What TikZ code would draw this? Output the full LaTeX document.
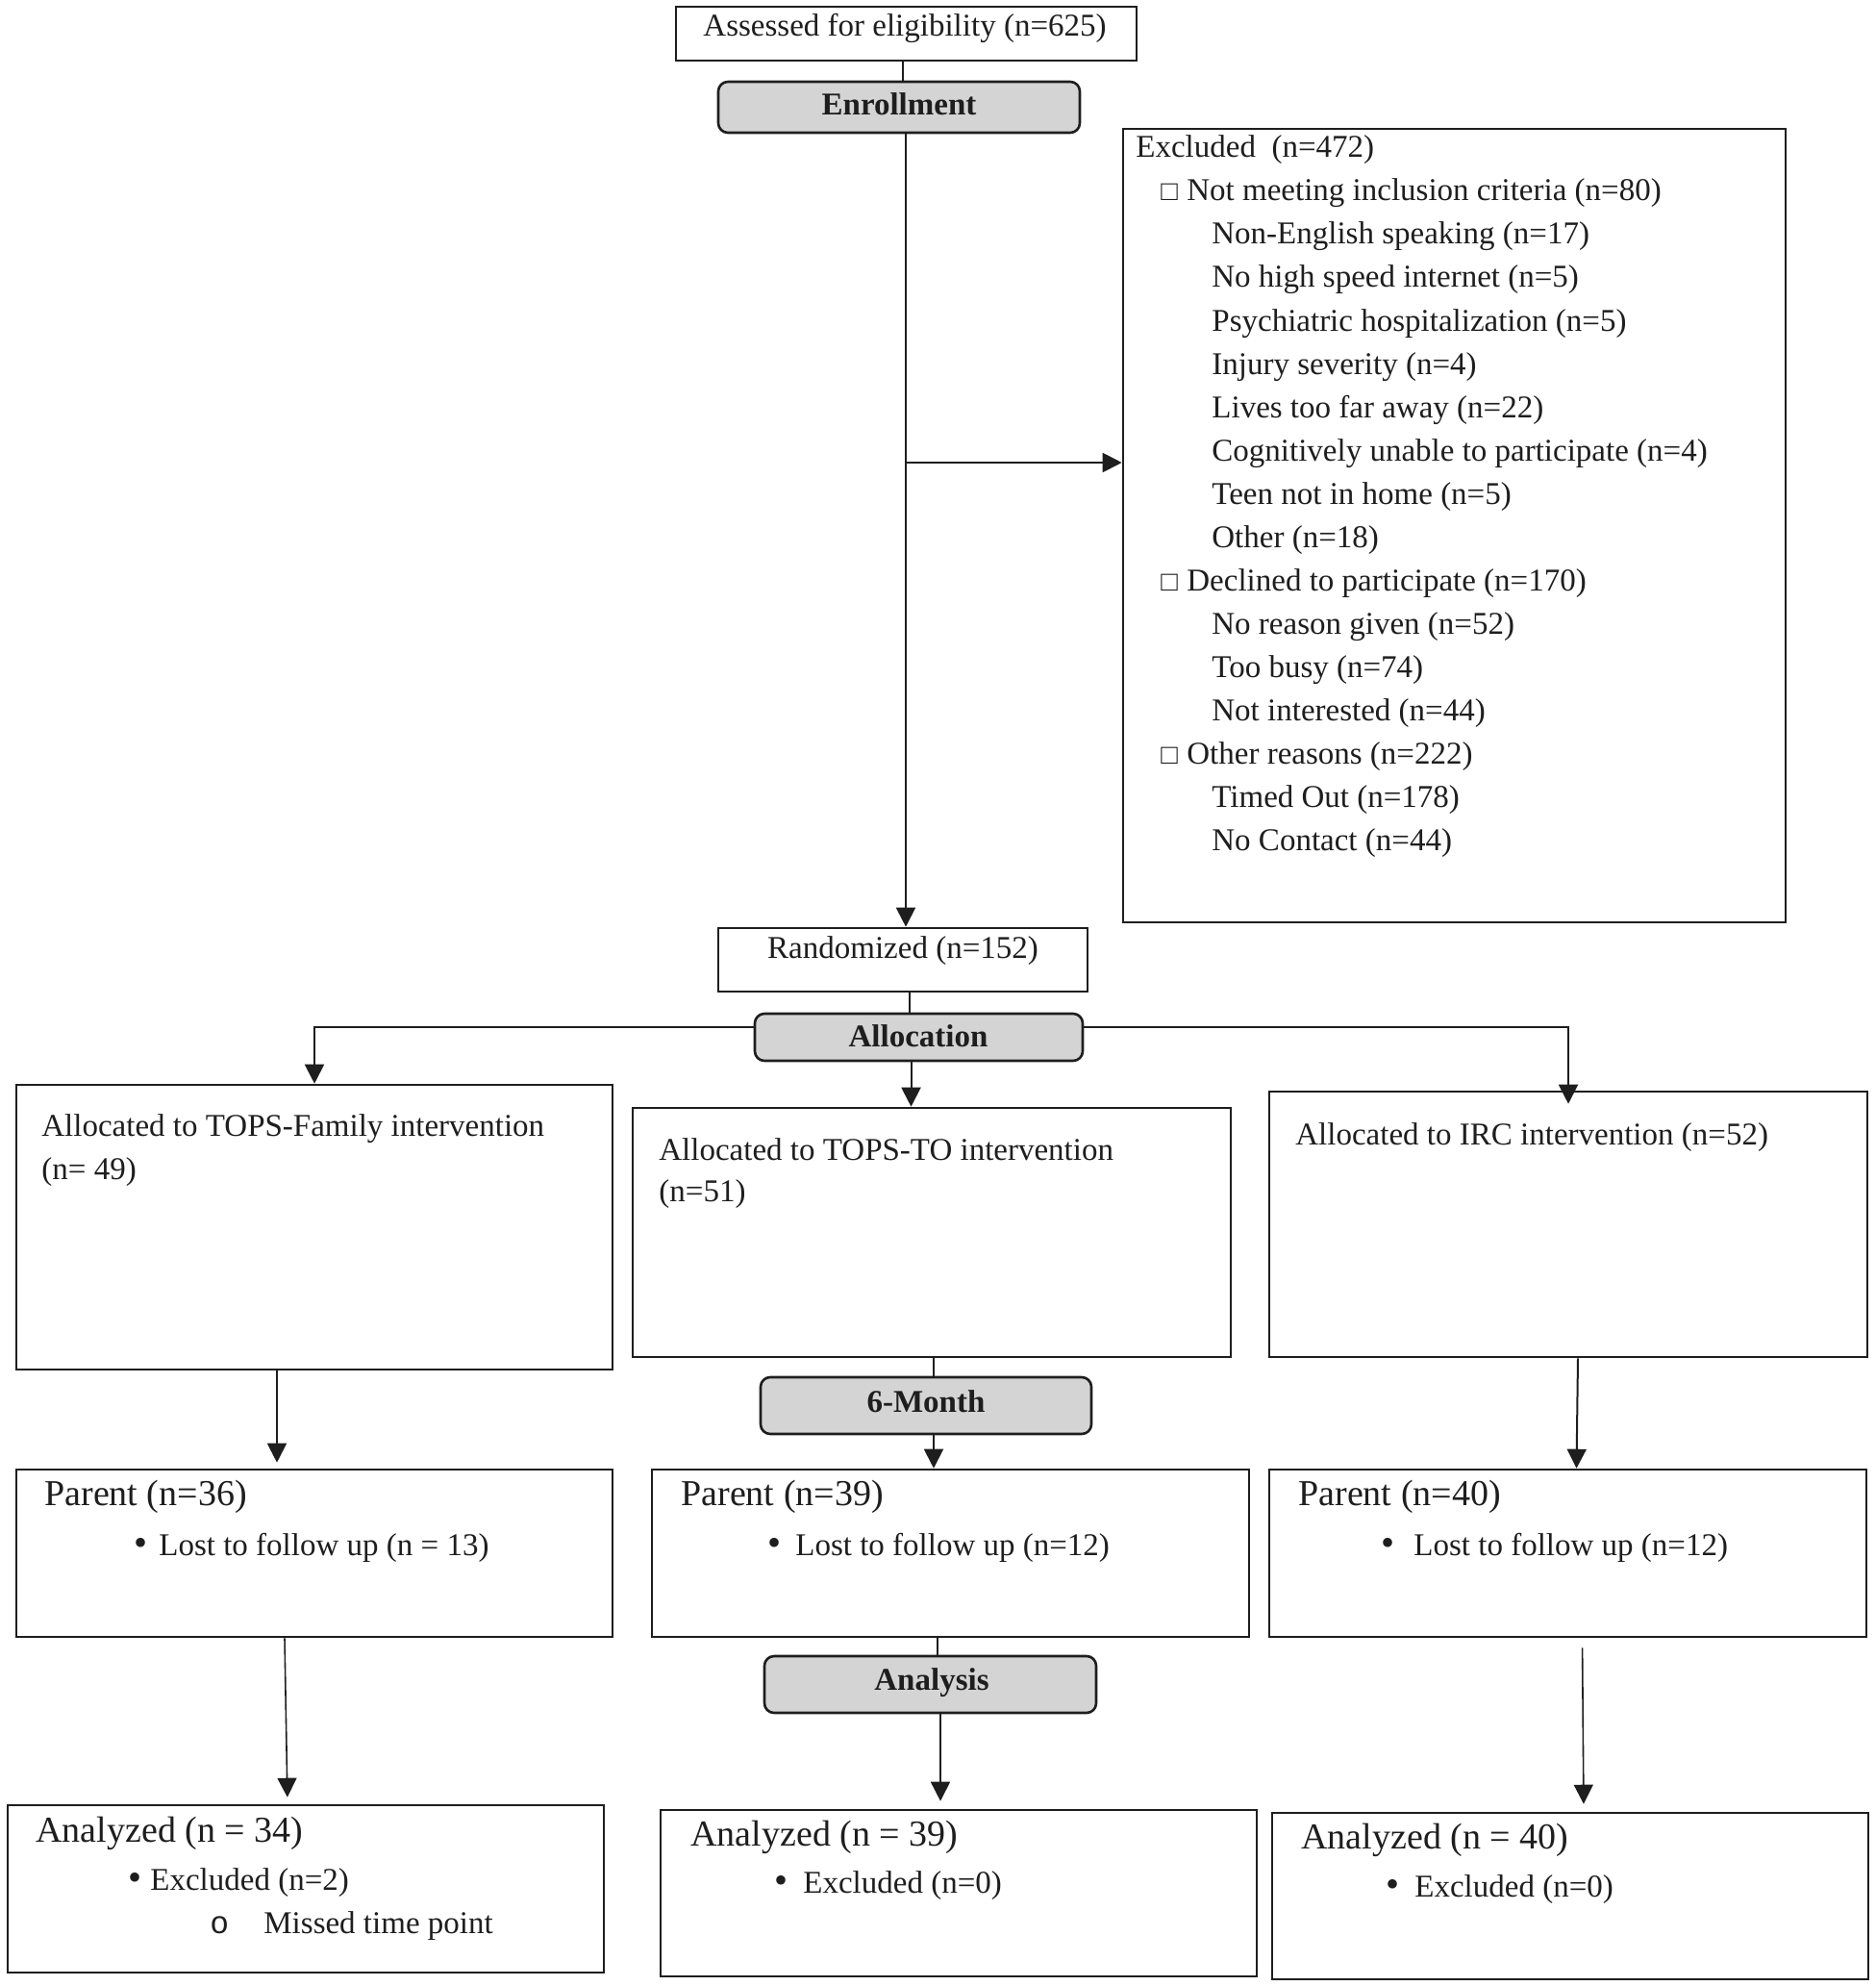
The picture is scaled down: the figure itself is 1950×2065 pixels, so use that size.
\documentclass[tikz,border=0pt]{standalone}
\usepackage{fontspec}
\setmainfont{Liberation Serif}
\newfontfamily\bulmono{Liberation Mono}
\usetikzlibrary{fit,arrows.meta}
\definecolor{ink}{RGB}{30,30,30}
\definecolor{phasegray}{RGB}{212,212,212}
\newcommand\mybul[1]{\makebox[#1][l]{\raisebox{-0.3pt}{\fontsize{20}{20}\selectfont •}}}
\newcommand\mychk{\makebox[13.5pt][l]{\raisebox{0pt}{\fontsize{14.5}{14.5}\selectfont □}}}
\begin{document}
\begin{tikzpicture}[x=0.5pt,y=-0.5pt,
  box/.style={draw=ink, line width=1.3pt, inner sep=0pt},
  phase/.style={box, fill=phasegray, rounded corners=5pt},
  arr/.style={draw=ink, line width=1pt, -{Triangle[length=10pt,width=10pt]}},
  thinarr/.style={draw=ink, line width=0.8pt, -{Triangle[length=10pt,width=10pt]}},
  ln/.style={draw=ink, line width=1pt},
  txt/.style={inner sep=0pt, anchor=base west, text=ink, font=\fontsize{16.5}{20}\selectfont},
  big/.style={txt, font=\fontsize{19}{23}\selectfont},
  bold/.style={inner sep=0pt, anchor=base, text=ink, font=\fontsize{16.5}{20}\selectfont\bfseries},
  ctr/.style={txt, anchor=base},
]
\useasboundingbox (0,0) rectangle (1950,2065);

% boxes
\node[box, fit={(703,7) (1182,63)}] (assess) {};
\node[phase, fit={(747,85) (1123,138)}] (enroll) {};
\node[box, fit={(1168,134) (1857,959)}] (excl) {};
\node[box, fit={(747,965) (1131,1031)}] (rand) {};
\node[phase, fit={(785,1054) (1126,1103)}] (alloc) {};
\node[box, fit={(17,1128) (637,1424)}] (fam) {};
\node[box, fit={(658,1152) (1280,1411)}] (tto) {};
\node[box, fit={(1320,1135) (1942,1411)}] (irc) {};
\node[phase, fit={(791,1432) (1135,1491)}] (six) {};
\node[box, fit={(17,1528) (637,1702)}] (p1) {};
\node[box, fit={(678,1528) (1299,1702)}] (p2) {};
\node[box, fit={(1320,1528) (1941,1702)}] (p3) {};
\node[phase, fit={(795,1722) (1140,1781)}] (ana) {};
\node[box, fit={(8,1877) (628,2051)}] (a1) {};
\node[box, fit={(687,1882) (1307,2055)}] (a2) {};
\node[box, fit={(1323,1885) (1943,2058)}] (a3) {};

% connectors
\draw[ln] ([xshift=-1.75pt]assess.south) -- ([xshift=-1.75pt]assess.south |- enroll.north);
\draw[arr] ([xshift=3.5pt]enroll.south) -- ([xshift=3.5pt]enroll.south |- rand.north);
\coordinate (jn) at (942,481);
\draw[arr] (jn) -- (jn -| excl.west);
\draw[ln] ([xshift=3.5pt]rand.south) -- ([xshift=3.5pt]rand.south |- alloc.north);
\coordinate (bl) at (327,1068);
\coordinate (br) at (1631,1068);
\draw[arr] (bl -| alloc.west) -- (bl) -- (bl |- fam.north);
\draw[arr, shorten >=-7pt] (br -| alloc.east) -- (br) -- (br |- irc.north);
\draw[arr] ([xshift=-4pt]alloc.south) -- ([xshift=-4pt]alloc.south |- tto.north);
\draw[ln] ([xshift=1pt]tto.south) -- ([xshift=1pt]tto.south |- six.north);
\draw[arr] ([xshift=1pt]tto.south |- six.south) -- ([xshift=1pt]tto.south |- p2.north);
\draw[arr, shorten >=3pt] ([xshift=-19.5pt]fam.south) -- ([xshift=-19.5pt]fam.south |- p1.north);
\draw[arr] ([xshift=5pt]irc.south) -- ([xshift=4.5pt]p3.north);
\draw[thinarr, shorten >=3.5pt] ([xshift=-15.5pt]p1.south) -- ([xshift=-9.5pt]a1.north);
\draw[ln, line width=0.8pt] ([xshift=-6.75pt]p2.south) -- ([xshift=-6.75pt]p2.south |- ana.north);
\draw[thinarr, shorten >=4pt] ([xshift=5.25pt]ana.south) -- ([xshift=5.25pt]ana.south |- a2.north);
\draw[thinarr, shorten <=5pt, shorten >=4pt] ([xshift=7.5pt]p3.south) -- ([xshift=7pt]a3.north);

% texts
\node[ctr] (assessT) at (941,38) {Assessed for eligibility (n=625)};
\node[bold] (enrollT) at (935,120) {Enrollment};

\node[txt] (ex0) at (1181,164) {Excluded~ (n=472)};
\node[txt] (ex1) at (1207,209) {\mychk Not meeting inclusion criteria (n=80)};
\node[txt] (ex2) at (1260,254) {Non-English speaking (n=17)};
\node[txt] (ex3) at (1260,299) {No high speed internet (n=5)};
\node[txt] (ex4) at (1260,344) {Psychiatric hospitalization (n=5)};
\node[txt] (ex5) at (1260,389) {Injury severity (n=4)};
\node[txt] (ex6) at (1260,434) {Lives too far away (n=22)};
\node[txt] (ex7) at (1260,479) {Cognitively unable to participate (n=4)};
\node[txt] (ex8) at (1260,524) {Teen not in home (n=5)};
\node[txt] (ex9) at (1260,569) {Other (n=18)};
\node[txt] (ex10) at (1207,614) {\mychk Declined to participate (n=170)};
\node[txt] (ex11) at (1260,659) {No reason given (n=52)};
\node[txt] (ex12) at (1260,704) {Too busy (n=74)};
\node[txt] (ex13) at (1260,749) {Not interested (n=44)};
\node[txt] (ex14) at (1207,794) {\mychk Other reasons (n=222)};
\node[txt] (ex15) at (1260,839) {Timed Out (n=178)};
\node[txt] (ex16) at (1260,884) {No Contact (n=44)};

\node[ctr] (randT) at (939,996) {Randomized (n=152)};
\node[bold] (allocT) at (955,1088) {Allocation};

\node[txt] (famT1) at (43,1181) {Allocated to TOPS-Family intervention};
\node[txt] (famT2) at (43,1226) {(n= 49)};
\node[txt] (ttoT1) at (685,1206) {Allocated to TOPS-TO intervention};
\node[txt] (ttoT2) at (685,1249) {(n=51)};
\node[txt] (ircT) at (1347,1190) {Allocated to IRC intervention (n=52)};

\node[bold] (sixT) at (963,1468) {6-Month};

\node[big] (p1T) at (46,1565) {Parent (n=36)};
\node[txt] (p1B) at (139,1617) {\mybul{13pt}Lost to follow up (n = 13)};
\node[big] (p2T) at (708,1565) {Parent (n=39)};
\node[txt] (p2B) at (798,1617) {\mybul{14.5pt}Lost to follow up (n=12)};
\node[big] (p3T) at (1350,1565) {Parent (n=40)};
\node[txt] (p3B) at (1436,1617) {\mybul{17pt}Lost to follow up (n=12)};

\node[bold] (anaT) at (969,1757) {Analysis};

\node[big] (a1T) at (37,1915) {Analyzed (n = 34)};
\node[txt] (a1B) at (133,1965) {\mybul{11.5pt}Excluded (n=2)};
\node[txt] (a1C) at (218,2010) {\makebox[28pt][l]{\bulmono o}Missed time point};
\node[big] (a2T) at (718,1919) {Analyzed (n = 39)};
\node[txt] (a2B) at (805,1968) {\mybul{15pt}Excluded (n=0)};
\node[big] (a3T) at (1353,1922) {Analyzed (n = 40)};
\node[txt] (a3B) at (1441,1972) {\mybul{15pt}Excluded (n=0)};
\end{tikzpicture}
\end{document}
